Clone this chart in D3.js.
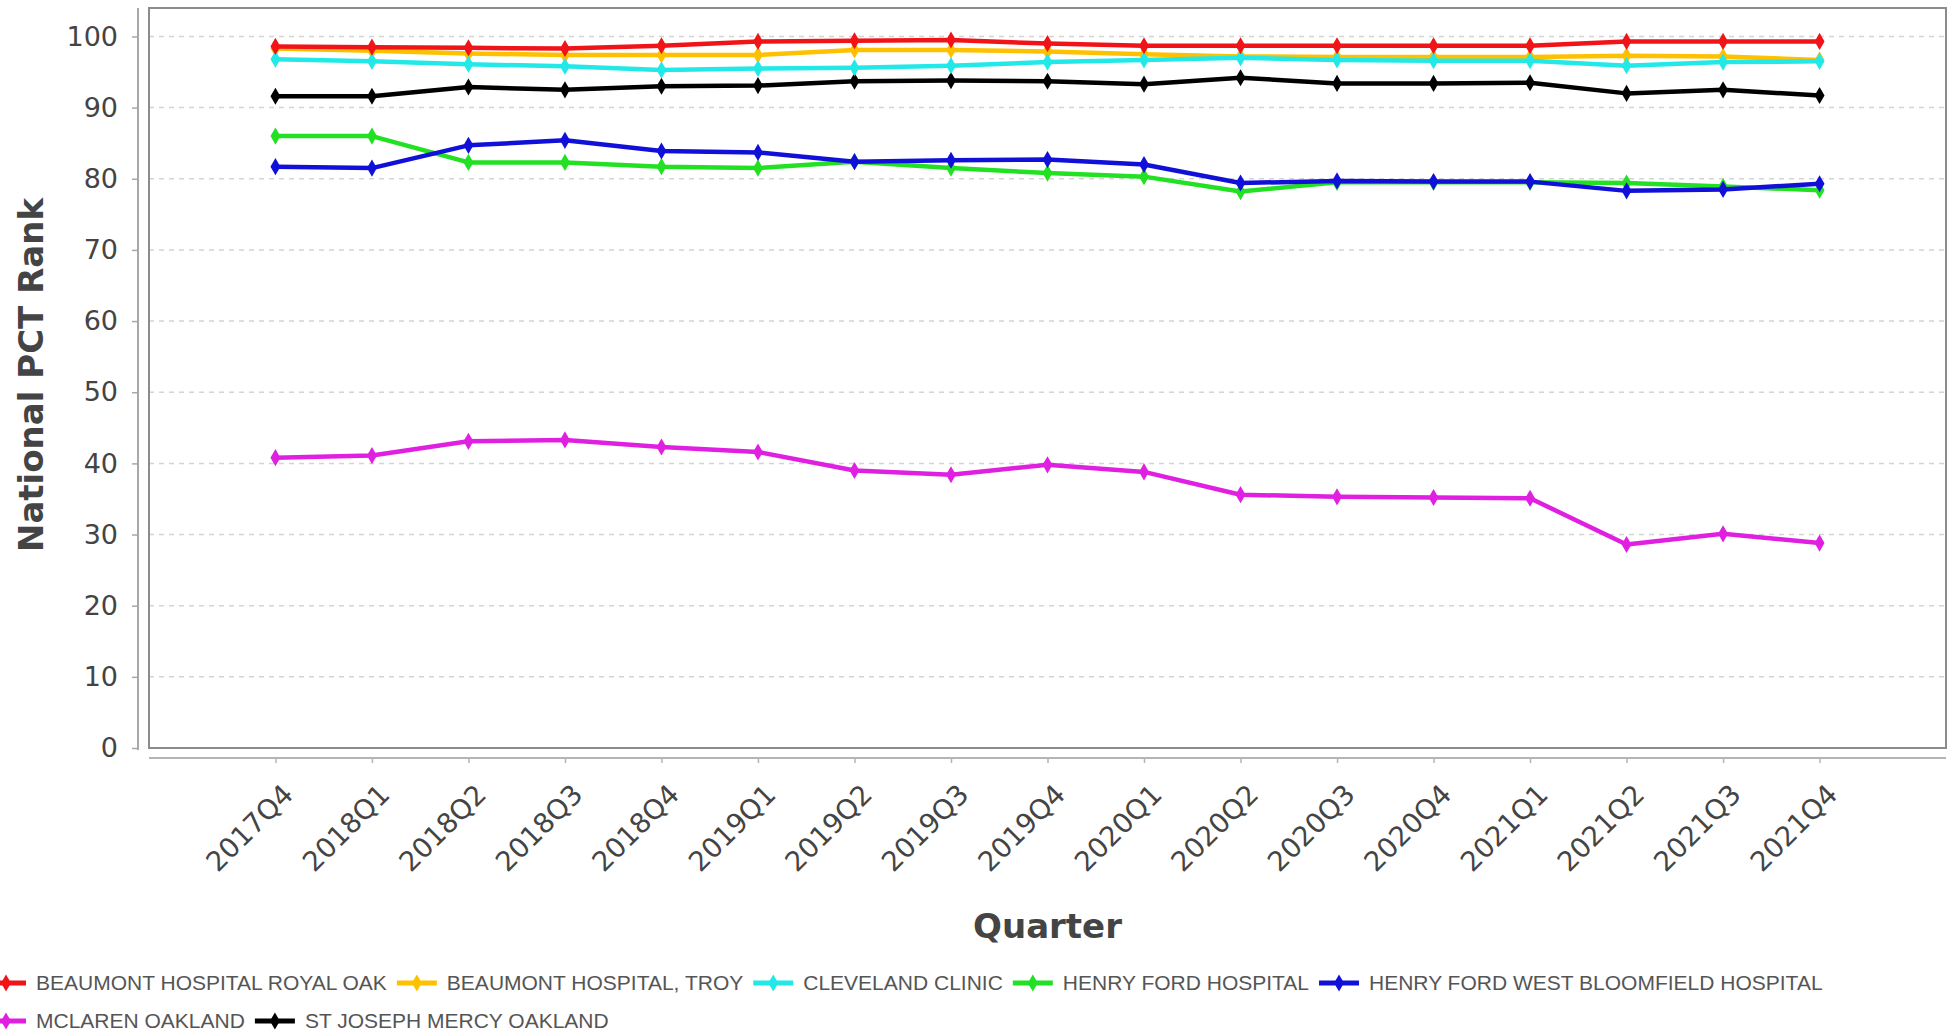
<!DOCTYPE html>
<html>
<head>
<meta charset="utf-8">
<script src="https://cdn.jsdelivr.net/npm/d3@7"></script>
<style>
  body { margin: 0; background: #fff; }
  svg { display: block; }
</style>
</head>
<body>
<div id="chart"></div>
<script>
(function() {
  // data
  var quarters = ["2017Q4", "2018Q1", "2018Q2", "2018Q3", "2018Q4", "2019Q1", "2019Q2", "2019Q3", "2019Q4",
                  "2020Q1", "2020Q2", "2020Q3", "2020Q4", "2021Q1", "2021Q2", "2021Q3", "2021Q4"];
  var seriesNames = ["BEAUMONT HOSPITAL ROYAL OAK", "BEAUMONT HOSPITAL, TROY", "CLEVELAND CLINIC",
                     "HENRY FORD HOSPITAL", "HENRY FORD WEST BLOOMFIELD HOSPITAL", "MCLAREN OAKLAND",
                     "ST JOSEPH MERCY OAKLAND"];
  var seriesColors = ["#f01418", "#ffc000", "#22e8e8", "#22e022", "#1010d8", "#e020e0", "#000000"];

  var royalOak   = [98.6, 98.5, 98.4, 98.3, 98.7, 99.3, 99.4, 99.5, 99.0, 98.7, 98.7, 98.7, 98.7, 98.7, 99.3, 99.3, 99.3];
  var troy       = [98.3, 98.0, 97.6, 97.4, 97.4, 97.4, 98.1, 98.1, 97.9, 97.5, 97.2, 97.1, 97.1, 97.1, 97.3, 97.2, 96.7];
  var cleveland  = [96.8, 96.5, 96.1, 95.8, 95.3, 95.5, 95.6, 95.9, 96.4, 96.7, 97.0, 96.7, 96.6, 96.6, 95.9, 96.4, 96.5];
  var henryFord  = [86.0, 86.0, 82.3, 82.3, 81.7, 81.5, 82.4, 81.5, 80.8, 80.3, 78.2, 79.5, 79.5, 79.5, 79.4, 78.9, 78.4];
  var westBloom  = [81.7, 81.5, 84.7, 85.4, 83.9, 83.7, 82.4, 82.6, 82.7, 82.0, 79.4, 79.7, 79.6, 79.6, 78.3, 78.5, 79.3];
  var mclaren    = [40.8, 41.1, 43.1, 43.3, 42.3, 41.6, 39.0, 38.4, 39.8, 38.8, 35.6, 35.3, 35.2, 35.1, 28.6, 30.1, 28.8];
  var stJoseph   = [91.6, 91.6, 92.9, 92.5, 93.0, 93.1, 93.7, 93.8, 93.7, 93.3, 94.2, 93.4, 93.4, 93.5, 92.0, 92.5, 91.7];

  var yTicks = [0, 10, 20, 30, 40, 50, 60, 70, 80, 90, 100];

  var allValues = [royalOak, troy, cleveland, henryFord, westBloom, mclaren, stJoseph];
  var series = seriesNames.map(function(name, i) {
    return {name: name, color: seriesColors[i], values: allValues[i]};
  });
  // paint order: red ends up on top, blue over green
  var drawOrder = [5, 6, 3, 4, 1, 2, 0];

  var W = 1955, H = 1032;
  var plot = {left: 149, right: 1946, top: 8, bottom: 748};

  var svg = d3.select("#chart").append("svg")
      .attr("width", W)
      .attr("height", H);

  var x = d3.scalePoint().domain(quarters).range([plot.left, plot.right]).padding(1.31);
  var y = d3.scaleLinear().domain([0, 104]).range([plot.bottom, plot.top]);

  // grid
  svg.append("g")
    .selectAll("line")
    .data(yTicks)
    .join("line")
      .attr("x1", plot.left)
      .attr("x2", plot.right)
      .attr("y1", function(d) { return y(d); })
      .attr("y2", function(d) { return y(d); })
      .attr("stroke", "#d4d4d4")
      .attr("stroke-width", 1.5)
      .attr("stroke-dasharray", "5,5");

  // plot frame
  svg.append("rect")
      .attr("x", plot.left)
      .attr("y", plot.top)
      .attr("width", plot.right - plot.left)
      .attr("height", plot.bottom - plot.top)
      .attr("fill", "none")
      .attr("stroke", "#8c8c8c")
      .attr("stroke-width", 2);

  // y axis, a bit left of the frame
  var yAxis = svg.append("g")
      .attr("transform", "translate(138,0)")
      .call(d3.axisLeft(y).tickValues(yTicks).tickSize(6).tickPadding(14));
  yAxis.select(".domain")
      .attr("d", "M0," + plot.top + "V" + (plot.bottom + 2))
      .attr("stroke", "#a8a8a8")
      .attr("stroke-width", 2);
  yAxis.selectAll(".tick line").attr("stroke", "#a8a8a8").attr("stroke-width", 1.5);
  yAxis.selectAll("text")
      .attr("fill", "#444")
      .style("font-family", "'DejaVu Sans', sans-serif")
      .style("font-size", "27px");

  // x axis, a bit below the frame
  var xAxis = svg.append("g")
      .attr("transform", "translate(0,758)")
      .call(d3.axisBottom(x).tickSize(5).tickSizeOuter(0));
  xAxis.select(".domain")
      .attr("d", "M" + plot.left + ",0H" + plot.right)
      .attr("stroke", "#b4b4b4")
      .attr("stroke-width", 2);
  xAxis.selectAll(".tick line").attr("stroke", "#b4b4b4").attr("stroke-width", 1.5);
  xAxis.selectAll("text")
      .attr("x", 0)
      .attr("y", 0)
      .attr("dy", 0)
      .attr("text-anchor", "end")
      .attr("transform", "translate(19,38) rotate(-45)")
      .attr("fill", "#444")
      .style("font-family", "'DejaVu Sans', sans-serif")
      .style("font-size", "27.5px");

  // axis titles
  svg.append("text")
      .attr("x", (plot.left + plot.right) / 2)
      .attr("y", 938)
      .attr("text-anchor", "middle")
      .attr("fill", "#444")
      .style("font-family", "'DejaVu Sans', sans-serif")
      .style("font-weight", "bold")
      .style("font-size", "34px")
      .text("Quarter");

  svg.append("text")
      .attr("transform", "translate(43,375) rotate(-90)")
      .attr("text-anchor", "middle")
      .attr("fill", "#444")
      .style("font-family", "'DejaVu Sans', sans-serif")
      .style("font-weight", "bold")
      .style("font-size", "34px")
      .text("National PCT Rank");

  // lines
  var valueline = d3.line()
      .x(function(d, idx) { return x(quarters[idx]); })
      .y(function(d) { return y(d); });

  var diamond = d3.symbol().type(d3.symbolDiamond).size(85);

  var lines = svg.append("g")
    .selectAll("g")
    .data(drawOrder.map(function(i) { return series[i]; }))
    .join("g");

  lines.append("path")
      .attr("d", function(s) { return valueline(s.values); })
      .attr("fill", "none")
      .attr("stroke", function(s) { return s.color; })
      .attr("stroke-width", 4.5)
      .attr("stroke-linejoin", "round");

  lines.selectAll(".marker")
    .data(function(s) { return s.values.map(function(v, idx) { return {v: v, q: quarters[idx], c: s.color}; }); })
    .join("path")
      .attr("class", "marker")
      .attr("transform", function(d) { return "translate(" + x(d.q) + "," + y(d.v) + ")"; })
      .attr("d", diamond)
      .attr("fill", function(d) { return d.c; });

  // legend, flows in rows like the original
  var legend = svg.append("g");
  var lx = 6, row = 0;
  var rowY = [983, 1021];
  series.forEach(function(s) {
    var item = legend.append("g");
    var label = item.append("text")
        .attr("x", 30)
        .attr("y", 7)
        .attr("fill", "#555")
        .style("font-family", "'Liberation Sans', Arial, sans-serif")
        .style("font-size", "21px")
        .text(s.name);
    var w = label.node().getComputedTextLength();
    if (lx + 30 + w > W - 20) { row += 1; lx = 6; }
    item.attr("transform", "translate(" + lx + "," + rowY[row] + ")");
    item.append("line")
        .attr("x1", -20).attr("x2", 20)
        .attr("stroke", s.color)
        .attr("stroke-width", 5);
    item.append("path")
        .attr("d", diamond)
        .attr("fill", s.color);
    lx += 30 + w + 30;
  });
})();
</script>
</body>
</html>
